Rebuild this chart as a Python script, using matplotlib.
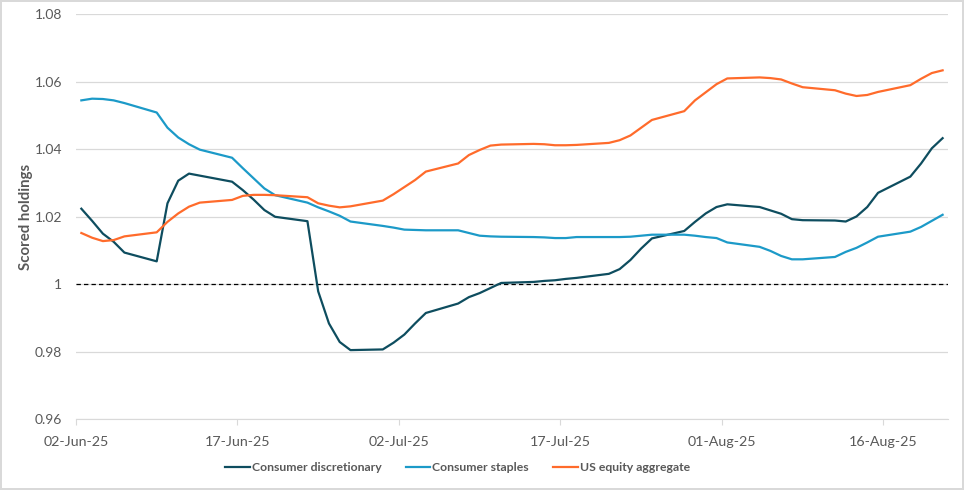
import matplotlib.pyplot as plt
import matplotlib.dates as mdates
import numpy as np
import pandas as pd

plt.rcParams['font.family'] = ['Lato', 'DejaVu Sans']

# business days 02-Jun-25 .. 21-Aug-25
dates = pd.bdate_range('2025-06-02', '2025-08-21')

discretionary = [
    1.0224, 1.0188, 1.0150, 1.0126, 1.0094,
    1.0068, 1.0240, 1.0307, 1.0328, 1.0322,
    1.0304, 1.0279, 1.0251, 1.0220, 1.0200,
    1.0187, 0.9979, 0.9884, 0.9829, 0.9805,
    0.9807, 0.9827, 0.9851, 0.9884, 0.9915,
    0.9943, 0.9962, 0.9974, 0.9989, 1.0004,
    1.0007, 1.0010, 1.0012, 1.0016, 1.0019,
    1.0031, 1.0045, 1.0072, 1.0106, 1.0136,
    1.0158, 1.0185, 1.0210, 1.0229, 1.0237,
    1.0229, 1.0219, 1.0209, 1.0193, 1.0190,
    1.0189, 1.0186, 1.0201, 1.0229, 1.0271,
    1.0319, 1.0358, 1.0403, 1.0433,
]
staples = [
    1.0545, 1.0550, 1.0549, 1.0545, 1.0537,
    1.0509, 1.0464, 1.0435, 1.0415, 1.0399,
    1.0375, 1.0344, 1.0314, 1.0284, 1.0264,
    1.0242, 1.0228, 1.0216, 1.0203, 1.0186,
    1.0173, 1.0168, 1.0162, 1.0161, 1.0160,
    1.0160, 1.0152, 1.0144, 1.0142, 1.0141,
    1.0140, 1.0139, 1.0137, 1.0137, 1.0140,
    1.0140, 1.0140, 1.0141, 1.0144, 1.0147,
    1.0147, 1.0144, 1.0140, 1.0137, 1.0124,
    1.0111, 1.0099, 1.0084, 1.0074, 1.0074,
    1.0081, 1.0096, 1.0108, 1.0124, 1.0141,
    1.0156, 1.0170, 1.0188, 1.0206,
]
us_aggregate = [
    1.0152, 1.0138, 1.0128, 1.0131, 1.0142,
    1.0154, 1.0185, 1.0210, 1.0230, 1.0242,
    1.0250, 1.0262, 1.0265, 1.0265, 1.0264,
    1.0258, 1.0240, 1.0233, 1.0228, 1.0231,
    1.0248, 1.0267, 1.0288, 1.0309, 1.0334,
    1.0358, 1.0383, 1.0398, 1.0411, 1.0414,
    1.0416, 1.0415, 1.0412, 1.0412, 1.0413,
    1.0419, 1.0427, 1.0441, 1.0464, 1.0487,
    1.0513, 1.0545, 1.0569, 1.0593, 1.0610,
    1.0613, 1.0611, 1.0607, 1.0595, 1.0584,
    1.0575, 1.0565, 1.0558, 1.0561, 1.0570,
    1.0590, 1.0609, 1.0626, 1.0634,
]
tick_dates = ['2025-06-02', '2025-06-17', '2025-07-02', '2025-07-17', '2025-08-01', '2025-08-16']
y_ticks = [0.96, 0.98, 1.00, 1.02, 1.04, 1.06, 1.08]
y_labels = ['0.96', '0.98', '1', '1.02', '1.04', '1.06', '1.08']

fig = plt.figure(figsize=(9.64, 4.9), dpi=100)
fig.patch.set_edgecolor('#d9d9d9')
fig.patch.set_linewidth(1.5)
ax = fig.add_axes([0.0788, 0.1443, 0.9046, 0.8265])

# Excel draws points in the middle of each day
x = dates + pd.Timedelta(hours=12)
ax.plot(x, discretionary, color='#0E4D5F', lw=1.6, label='Consumer discretionary')
ax.plot(x, staples, color='#1C9AC8', lw=1.6, label='Consumer staples')
ax.plot(x, us_aggregate, color='#FF6B2B', lw=1.6, label='US equity aggregate')
ax.axhline(1.0, color='black', lw=0.9, ls=(0, (3.5, 2.5)), zorder=1)

ax.set_xlim(pd.Timestamp('2025-06-02'), pd.Timestamp('2025-08-22'))
ax.set_ylim(0.96, 1.08)
ax.set_yticks(y_ticks)
ax.set_yticklabels(y_labels)
ax.set_xticks(pd.to_datetime(tick_dates))
ax.xaxis.set_major_formatter(mdates.DateFormatter('%d-%b-%y'))

ax.grid(axis='y', color='#d9d9d9', lw=0.9, zorder=0)
ax.set_axisbelow(True)
for side in ['top', 'right', 'left']:
    ax.spines[side].set_visible(False)
ax.spines['bottom'].set_color('#d9d9d9')
ax.tick_params(axis='y', length=0, pad=10, labelsize=10, labelcolor='#595959')
ax.tick_params(axis='x', length=4, color='#d9d9d9', pad=8, labelsize=10.3, labelcolor='#595959')

ax.set_ylabel('Scored holdings', fontsize=10.8, fontweight='bold', color='#595959', labelpad=1)

fig.legend(loc='center', bbox_to_anchor=(0.4746, 0.045), ncol=3, frameon=False,
           handlelength=2.0, handletextpad=0.15, columnspacing=2.0,
           prop={'size': 8.8, 'weight': 'bold'}, labelcolor='#595959')

fig.savefig('out.png', dpi=100)
